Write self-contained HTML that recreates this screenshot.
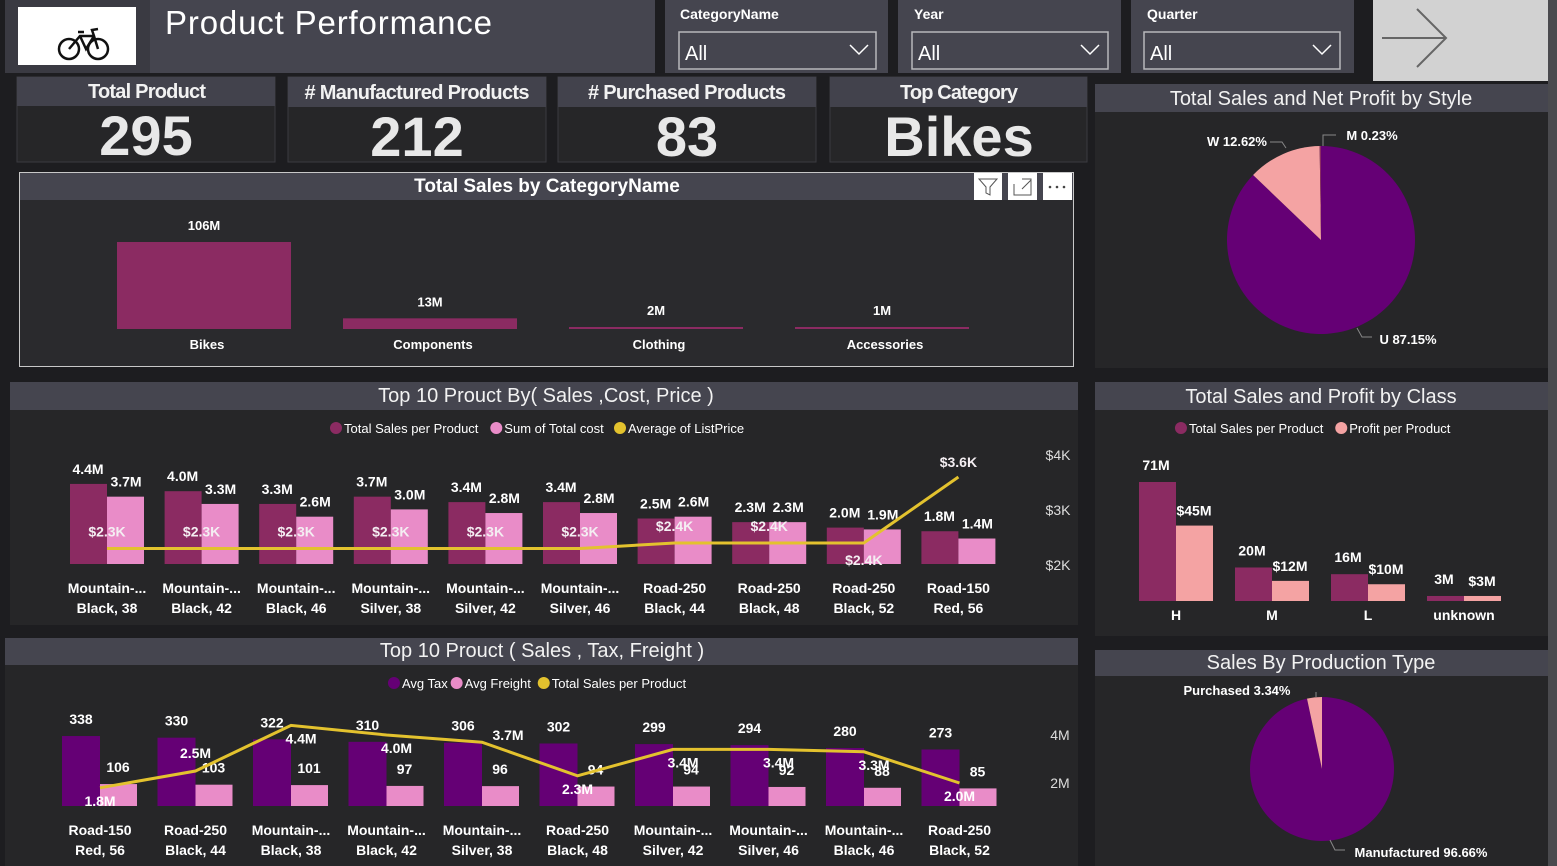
<!DOCTYPE html>
<html><head><meta charset="utf-8"><style>
html,body{margin:0;padding:0;background:#1d1d20;width:1557px;height:866px;overflow:hidden}
svg{display:block;font-family:"Liberation Sans Narrow","Liberation Sans",sans-serif}
.t{fill:#fff;font-weight:bold}
.h{fill:#f2f2f2;font-size:20px;text-anchor:middle}
</style></head><body>
<svg id="s" width="1557" height="866" viewBox="0 0 1557 866">
<rect x="0" y="0" width="1557" height="866" fill="#1d1d20"/>
<rect x="1548" y="0" width="9" height="866" fill="#4a4a4e"/>
<rect x="5" y="0" width="145" height="73" fill="#3a3a42"/>
<rect x="18" y="7" width="118" height="58" fill="#fff"/>
<g stroke="#111" fill="none" stroke-width="2.5">
<circle cx="69" cy="49" r="10"/><circle cx="98" cy="49" r="10"/>
<path d="M69 49 L80 36 L94 36 L98 49 M80 36 L86 49 L94 36 M78 32 L84 32 M94 36 L92 30 L98 29"/>
</g>
<rect x="150" y="0" width="505" height="73" fill="#45454f"/>
<text x="165" y="34" fill="#fff" style="font-size:33px;font-family:'Liberation Sans',sans-serif" textLength="327">Product Performance</text>
<g>
<rect x="665" y="0" width="223" height="73" fill="#45454f"/>
<text x="680" y="19" class="t" style="font-size:14px">CategoryName</text>
<rect x="679" y="32" width="197" height="37" fill="none" stroke="#b8b8bc" stroke-width="1.5"/>
<text x="685" y="60" fill="#fff" style="font-size:20px;font-family:'Liberation Sans',sans-serif">All</text>
<path d="M850 45 L859 54 L868 45" stroke="#fff" fill="none" stroke-width="1.5"/>
</g>
<g>
<rect x="898" y="0" width="223" height="73" fill="#45454f"/>
<text x="914" y="19" class="t" style="font-size:14px">Year</text>
<rect x="912" y="32" width="196" height="37" fill="none" stroke="#b8b8bc" stroke-width="1.5"/>
<text x="918" y="60" fill="#fff" style="font-size:20px;font-family:'Liberation Sans',sans-serif">All</text>
<path d="M1081 45 L1090 54 L1099 45" stroke="#fff" fill="none" stroke-width="1.5"/>
</g>
<g>
<rect x="1131" y="0" width="223" height="73" fill="#45454f"/>
<text x="1147" y="19" class="t" style="font-size:14px">Quarter</text>
<rect x="1144" y="32" width="196" height="37" fill="none" stroke="#b8b8bc" stroke-width="1.5"/>
<text x="1150" y="60" fill="#fff" style="font-size:20px;font-family:'Liberation Sans',sans-serif">All</text>
<path d="M1313 45 L1322 54 L1331 45" stroke="#fff" fill="none" stroke-width="1.5"/>
</g>
<g>
<rect x="1373" y="0" width="175" height="81" fill="#d2d2d2"/>
<path d="M1382 38 L1446 38 M1417 9 L1446 38 L1417 67" stroke="#666" stroke-width="2" fill="none"/>
</g>
<g>
<rect x="17" y="77" width="258" height="85" fill="#262628" stroke="#3a3a40"/><rect x="17" y="77" width="258" height="29" fill="#42424c"/>
<text x="147" y="98" class="t h" textLength="118">Total Product</text>
<text x="146" y="155" class="t" style="font-size:56px;text-anchor:middle;fill:#e8e8e8">295</text></g>
<g>
<rect x="288" y="77" width="258" height="85" fill="#262628" stroke="#3a3a40"/><rect x="288" y="77" width="258" height="30" fill="#42424c"/>
<text x="417" y="99" class="t h" textLength="225"># Manufactured Products</text>
<text x="417" y="156" class="t" style="font-size:56px;text-anchor:middle;fill:#e8e8e8">212</text></g>
<g>
<rect x="558" y="77" width="258" height="85" fill="#262628" stroke="#3a3a40"/><rect x="558" y="77" width="258" height="30" fill="#42424c"/>
<text x="687" y="99" class="t h" textLength="198"># Purchased Products</text>
<text x="687" y="156" class="t" style="font-size:56px;text-anchor:middle;fill:#e8e8e8">83</text></g>
<g>
<rect x="830" y="77" width="257" height="85" fill="#262628" stroke="#3a3a40"/><rect x="830" y="77" width="257" height="30" fill="#42424c"/>
<text x="959" y="99" class="t h" textLength="118">Top Category</text>
<text x="959" y="156" class="t" style="font-size:56px;text-anchor:middle;fill:#e8e8e8">Bikes</text></g>
<g>
<rect x="19.5" y="172.5" width="1054" height="194" fill="#2a2a2d" stroke="#c8c8c8"/>
<rect x="20" y="173" width="1053" height="27" fill="#45454f"/>
<text x="547" y="192" class="t" style="font-size:19px;text-anchor:middle">Total Sales by CategoryName</text>
<g><rect x="974" y="173" width="28" height="27" fill="#fff"/><path d="M979 179 L997 179 L990 187 L990 195 L986 193 L986 187 Z" fill="none" stroke="#555"/></g>
<g><rect x="1008" y="173" width="29" height="27" fill="#fff"/><path d="M1014 184 L1014 195 L1031 195 L1031 179 L1022 179 M1022 189 L1031 180" fill="none" stroke="#555"/></g>
<g><rect x="1043" y="173" width="29" height="27" fill="#fff"/><circle cx="1050" cy="187" r="1.3" fill="#444"/><circle cx="1057" cy="187" r="1.3" fill="#444"/><circle cx="1064" cy="187" r="1.3" fill="#444"/></g>
</g>
<g>
<rect x="10" y="382" width="1068" height="243" fill="#262628"/><rect x="10" y="382" width="1068" height="28" fill="#45454f"/>
<text x="546" y="402" class="h" style="font-size:20px">Top 10 Prouct By( Sales ,Cost, Price )</text></g>
<g>
<rect x="5" y="638" width="1073" height="228" fill="#262628"/><rect x="5" y="638" width="1073" height="27" fill="#45454f"/>
<text x="542" y="657" class="h" style="font-size:20px">Top 10 Prouct ( Sales , Tax, Freight )</text></g>
<g>
<rect x="1095" y="84" width="453" height="284" fill="#262628"/><rect x="1095" y="84" width="453" height="28" fill="#45454f"/>
<text x="1321" y="105" class="h" style="font-size:20px;font-family:'Liberation Sans',sans-serif">Total Sales and Net Profit by Style</text></g>
<g>
<rect x="1095" y="382" width="453" height="254" fill="#262628"/><rect x="1095" y="382" width="453" height="28" fill="#45454f"/>
<text x="1321" y="403" class="h" style="font-size:20px;font-family:'Liberation Sans',sans-serif">Total Sales and Profit by Class</text></g>
<g>
<rect x="1095" y="650" width="453" height="216" fill="#262628"/><rect x="1095" y="650" width="453" height="26" fill="#45454f"/>
<text x="1321" y="669" class="h" style="font-size:20px;font-family:'Liberation Sans',sans-serif">Sales By Production Type</text></g>
<g id="marks"></g>
</svg>
<script>
// ---- data ----
const catNames = ['Bikes','Components','Clothing','Accessories'];
const catSales = [106,13,2,1];
const catLabels = ['106M','13M','2M','1M'];

const prod1Line1 = ['Mountain-...','Mountain-...','Mountain-...','Mountain-...','Mountain-...','Mountain-...','Road-250','Road-250','Road-250','Road-150'];
const prod1Line2 = ['Black, 38','Black, 42','Black, 46','Silver, 38','Silver, 42','Silver, 46','Black, 44','Black, 48','Black, 52','Red, 56'];
const sales1 = [4.4,4.0,3.3,3.7,3.4,3.4,2.5,2.3,2.0,1.8];
const cost1 = [3.7,3.3,2.6,3.0,2.8,2.8,2.6,2.3,1.9,1.4];
const price1 = [2.3,2.3,2.3,2.3,2.3,2.3,2.4,2.4,2.4,3.6];
const priceTicks = [2,3,4];

const prod3Line1 = ['Road-150','Road-250','Mountain-...','Mountain-...','Mountain-...','Road-250','Mountain-...','Mountain-...','Mountain-...','Road-250'];
const prod3Line2 = ['Red, 56','Black, 44','Black, 38','Black, 42','Silver, 38','Black, 48','Silver, 42','Silver, 46','Black, 46','Black, 52'];
const tax3 = [338,330,322,310,306,302,299,294,280,273];
const freight3 = [106,103,101,97,96,94,94,92,88,85];
const sales3 = [1.8,2.5,4.4,4.0,3.7,2.3,3.4,3.4,3.3,2.0];
const salesTicks3 = [2,4];

const styleNames = ['U','W','M'];
const styleShare = [87.15,12.62,0.23];

const classNames = ['H','M','L','unknown'];
const classSales = [71,20,16,3];
const classProfit = [45,12,10,3];

const prodTypeNames = ['Manufactured','Purchased'];
const prodTypeShare = [96.66,3.34];

// ---- helpers ----
const NS='http://www.w3.org/2000/svg';
const root=document.getElementById('marks');
function mk(tag,attrs,txt){const e=document.createElementNS(NS,tag);for(const k in attrs)e.setAttribute(k,attrs[k]);if(txt!==undefined)e.textContent=txt;root.appendChild(e);return e;}
function lbl(x,y,t,size,anchor,fill){return mk('text',{x:x,y:y,fill:fill||'#fff','font-size':size||14,'font-weight':'bold','text-anchor':anchor||'middle'},t);}
const DARK='#8b2b62',PINK='#e98cc8',YEL='#e3c22e',PURP='#650075',SALMON='#f4a3a3';

(function(){
  const base=329, k=87/106;
  catNames.forEach((c,i)=>{
    const x=117+i*226, h=Math.max(catSales[i]*k,2);
    const b=mk('rect',{x:x,y:base-h,width:174,height:h,fill:DARK});
    
    
    const v=lbl(x+87,base-h-12,catLabels[i],13);
    
    
    const t=lbl(x+90,349,c,13);
    
    
  });
})();

function legend(items,cx,y){
  let tot=0;const w=items.map(it=>it[0].length*6.1+20);w.forEach(v=>tot+=v);
  let x=cx-tot/2;
  items.forEach((it,i)=>{
    const c=mk('circle',{cx:x+6,cy:y-4,r:6,fill:it[1]});
    
    
    const t=mk('text',{x:x+14,y:y+1,fill:'#fff','font-size':13},it[0]);
    
    
    x+=w[i];
  });
}

(function(){
  legend([['Total Sales per Product',DARK],['Sum of Total cost',PINK],['Average of ListPrice',YEL]],543,432);
  const base=564,k=18.2,step=94.6,x0=107;
  const py=v=>565-(v-2)*55;
  priceTicks.forEach(t=>{const e=lbl(1058,py(t)+5,'$'+t+'K',14,'middle','#ddd');e.setAttribute('font-weight','normal');});
  let pts=[];
  sales1.forEach((s,i)=>{
    const cx=x0+i*step;
    const h1=s*k,h2=cost1[i]*k;
    const a=mk('rect',{x:cx-37,y:base-h1,width:37,height:h1,fill:DARK});
    
    
    const b=mk('rect',{x:cx,y:base-h2,width:37,height:h2,fill:PINK});
    
    
    const l1=lbl(cx-19,base-h1-10,s.toFixed(1)+'M',14);
    
    
    const l2=lbl(cx+19,base-h2-10,cost1[i].toFixed(1)+'M',14);
    
    
    const n1=lbl(cx,593,prod1Line1[i],14);
    
    
    const n2=lbl(cx,613,prod1Line2[i],14);
    
    
    pts.push([cx,py(price1[i])]);
  });
  const ln=mk('polyline',{points:pts.map(p=>p.join(',')).join(' '),fill:'none',stroke:YEL,'stroke-width':3});
  
  
  pts.forEach((p,i)=>{
    const dy=(i===8)?22:(i===9?-10:-12);
    const e=lbl(p[0],p[1]+dy,'$'+price1[i].toFixed(1)+'K',14,'middle','#f4eef2');
    
    
  });
})();

(function(){
  legend([['Avg Tax',PURP],['Avg Freight',PINK],['Total Sales per Product',YEL]],543,687);
  const base=806,k=0.207,step=95.5,x0=100;
  const sy=v=>831-v*24;
  salesTicks3.forEach(t=>{const e=lbl(1060,sy(t)+5,t+'M',14,'middle','#ddd');e.setAttribute('font-weight','normal');});
  let pts=[];
  tax3.forEach((t,i)=>{
    const cx=x0+i*step,h1=t*k,h2=freight3[i]*k;
    const a=mk('rect',{x:cx-38,y:base-h1,width:38,height:h1,fill:PURP});
    
    
    const b=mk('rect',{x:cx,y:base-h2,width:37,height:h2,fill:PINK});
    
    
    const l1=lbl(cx-19,base-h1-12,String(t),14);
    
    
    const l2=lbl(cx+18,base-h2-12,String(freight3[i]),14);
    
    
    const n1=lbl(cx,835,prod3Line1[i],14);
    
    
    const n2=lbl(cx,855,prod3Line2[i],14);
    
    
    pts.push([cx,sy(sales3[i])]);
  });
  const ln=mk('polyline',{points:pts.map(p=>p.join(',')).join(' '),fill:'none',stroke:YEL,'stroke-width':3});
  
  
  pts.forEach((p,i)=>{
    const above=(i===1);
    const dx=(i===0||i===5||i===9)?0:(i===4?26:(i===1?0:10));
    const dy=above?-13:(i===4?-2:18);
    const e=lbl(p[0]+dx,p[1]+dy,sales3[i].toFixed(1)+'M',14);
    
    
  });
})();

function pie(cx,cy,r,shares,colors,names){
  let a0=0;
  shares.forEach((s,i)=>{
    const a1=a0+s/100*2*Math.PI;
    const p=(a)=>[cx+r*Math.sin(a),cy-r*Math.cos(a)];
    const [x0,y0]=p(a0),[x1,y1]=p(a1);
    const large=(a1-a0)>Math.PI?1:0;
    const sl=mk('path',{d:`M${cx},${cy} L${x0},${y0} A${r},${r} 0 ${large} 1 ${x1},${y1} Z`,fill:colors[i]});
    
    
    a0=a1;
  });
}
(function(){
  pie(1321,240,94,styleShare,[PURP,SALMON,'#8b2b62'],styleNames);
  const g=[['W '+styleShare[1].toFixed(2)+'%',1237,146,'M1270 142 L1282 142 L1286 148'],['M '+styleShare[2].toFixed(2)+'%',1372,140,'M1323 146 L1323 135 L1336 135'],['U '+styleShare[0].toFixed(2)+'%',1408,344,'M1357 328 L1362 337 L1372 337']];
  g.forEach(q=>{
    const t=lbl(q[1],q[2],q[0],13);
    
    
    const l=mk('path',{d:q[3],fill:'none',stroke:'#888'});
    
    
  });
  pie(1322,769,72,prodTypeShare,[PURP,SALMON],prodTypeNames);
  const a=lbl(1237,695,'Purchased '+prodTypeShare[1].toFixed(2)+'%',13);
  
  
  const b=lbl(1421,857,'Manufactured '+prodTypeShare[0].toFixed(2)+'%',13);
  
  
  const l=mk('path',{d:'M1316 697 L1316 692 M1330 840 L1335 850 L1345 850',fill:'none',stroke:'#888'});
  
  
})();

(function(){
  legend([['Total Sales per Product',DARK],['Profit per Product',SALMON]],1320,432);
  const base=601,k=119/71,step=96,x0=1176;
  classNames.forEach((c,i)=>{
    const cx=x0+i*step,h1=classSales[i]*k,h2=classProfit[i]*k;
    const a=mk('rect',{x:cx-37,y:base-h1,width:37,height:h1,fill:DARK});
    
    
    const b=mk('rect',{x:cx,y:base-h2,width:37,height:h2,fill:SALMON});
    
    
    const l1=lbl(cx-20,base-h1-12,classSales[i]+'M',14);
    
    
    const l2=lbl(cx+18,base-h2-10,'$'+classProfit[i]+'M',14);
    
    
    const n=lbl(cx,620,c,14);
    
    
  });
})();
</script>
</body></html>
